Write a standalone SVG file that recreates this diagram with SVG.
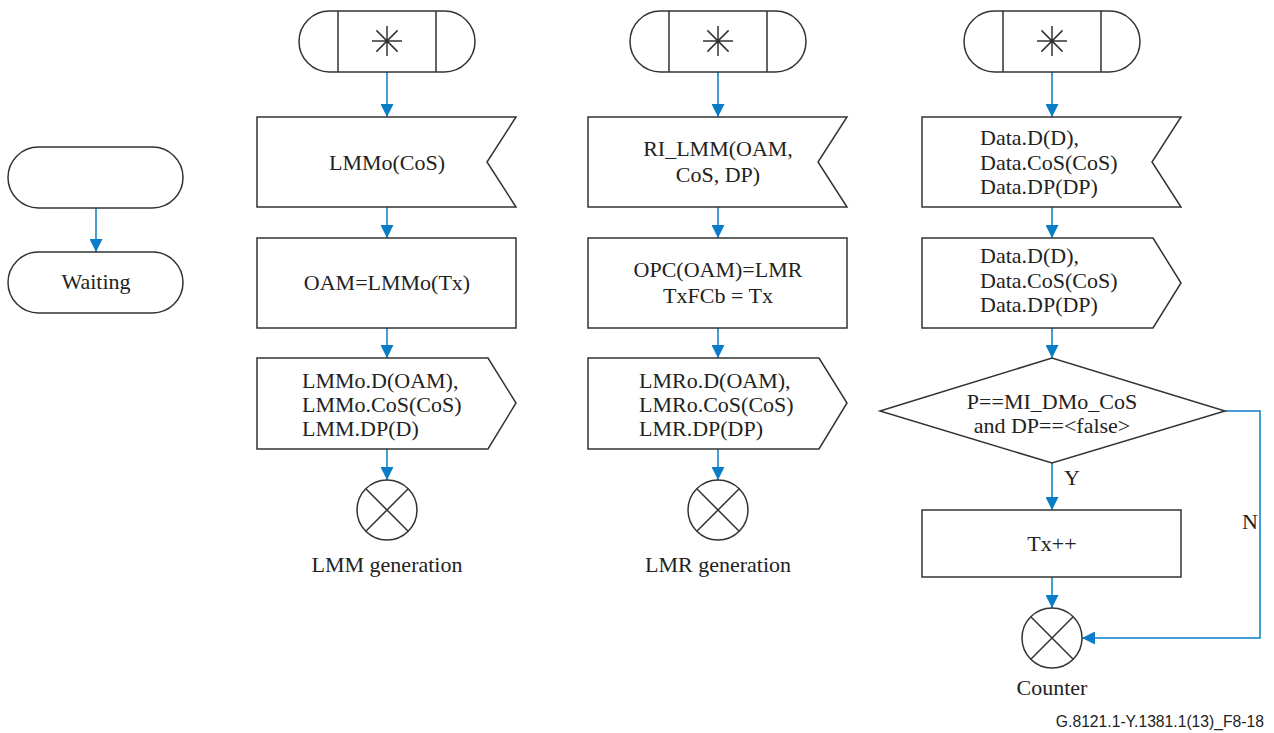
<svg xmlns="http://www.w3.org/2000/svg" width="1274" height="733" viewBox="0 0 1274 733">
<style>
.s{fill:#fff;stroke:#333;stroke-width:1.5}
.l{fill:none;stroke:#333;stroke-width:1.5}
.c{fill:none;stroke:#0a7cc8;stroke-width:1.5}
.t{font-family:"Liberation Serif",serif;font-size:22px;fill:#222}
.m{text-anchor:middle}
.f{font-family:"Liberation Sans",sans-serif;font-size:15.7px;fill:#222;text-anchor:end}
</style>
<defs>
<marker id="a" viewBox="0 0 12 12" refX="12" refY="6" markerWidth="13" markerHeight="13" markerUnits="userSpaceOnUse" orient="auto">
<path d="M0,0 L12,6 L0,12 Z" fill="#0a7cc8"/>
</marker>
<g id="star"><path class="l" d="M-15,0H15M0,-15V15M-10.6,-10.6L10.6,10.6M-10.6,10.6L10.6,-10.6"/></g>
<g id="x"><circle r="30" class="s"/><path class="l" d="M-21.2,-21.2L21.2,21.2M-21.2,21.2L21.2,-21.2"/></g>
</defs>

<g id="connectors">
<path class="c" marker-end="url(#a)" d="M96,208V252"/>
<path class="c" marker-end="url(#a)" d="M387,72V117"/>
<path class="c" marker-end="url(#a)" d="M387,207V238"/>
<path class="c" marker-end="url(#a)" d="M387,328V358"/>
<path class="c" marker-end="url(#a)" d="M387,449V480"/>
<path class="c" marker-end="url(#a)" d="M718,72V117"/>
<path class="c" marker-end="url(#a)" d="M718,207V238"/>
<path class="c" marker-end="url(#a)" d="M718,328V358"/>
<path class="c" marker-end="url(#a)" d="M718,449V480"/>
<path class="c" marker-end="url(#a)" d="M1052,72V117"/>
<path class="c" marker-end="url(#a)" d="M1052,207V238"/>
<path class="c" marker-end="url(#a)" d="M1052,328V358"/>
<path class="c" marker-end="url(#a)" d="M1052,463V510"/>
<path class="c" marker-end="url(#a)" d="M1052,577V608"/>
<path class="c" marker-end="url(#a)" d="M1225,411H1260V638H1082"/>
<text class="t" x="1064" y="485">Y</text>
<text class="t" x="1242" y="529">N</text>
</g>

<g id="left-start"><rect class="s" x="8" y="147" width="175" height="61" rx="30.5"/></g>
<g id="waiting"><rect class="s" x="8" y="252" width="175" height="61" rx="30.5"/><text class="t m" x="96" y="289">Waiting</text></g>

<g id="lmm-start"><rect class="s" x="299" y="11" width="176" height="61" rx="30.5"/><path class="l" d="M338,11V72M436,11V72"/><use href="#star" x="387" y="41"/></g>
<g id="lmm-in"><polygon class="s" points="257,117 516,117 487,162 516,207 257,207"/><text class="t m" x="387" y="170">LMMo(CoS)</text></g>
<g id="lmm-task"><rect class="s" x="257" y="238" width="259" height="90"/><text class="t m" x="387" y="290">OAM=LMMo(Tx)</text></g>
<g id="lmm-out"><polygon class="s" points="257,358 488,358 516,403 488,449 257,449"/>
<text class="t" x="302" y="388">LMMo.D(OAM),</text><text class="t" x="302" y="412">LMMo.CoS(CoS)</text><text class="t" x="302" y="436">LMM.DP(D)</text></g>
<g id="lmm-gen"><use href="#x" x="387" y="510"/><text class="t m" x="387" y="572">LMM generation</text></g>

<g id="lmr-start"><rect class="s" x="630" y="11" width="176" height="61" rx="30.5"/><path class="l" d="M669,11V72M767,11V72"/><use href="#star" x="718" y="41"/></g>
<g id="lmr-in"><polygon class="s" points="588,117 847,117 818,162 847,207 588,207"/><text class="t m" x="718" y="156">RI_LMM(OAM,</text><text class="t m" x="718" y="182">CoS, DP)</text></g>
<g id="lmr-task"><rect class="s" x="588" y="238" width="259" height="90"/><text class="t m" x="718" y="277">OPC(OAM)=LMR</text><text class="t m" x="718" y="303">TxFCb = Tx</text></g>
<g id="lmr-out"><polygon class="s" points="588,358 819,358 847,403 819,449 588,449"/>
<text class="t" x="639" y="388">LMRo.D(OAM),</text><text class="t" x="639" y="412">LMRo.CoS(CoS)</text><text class="t" x="639" y="436">LMR.DP(DP)</text></g>
<g id="lmr-gen"><use href="#x" x="718" y="510"/><text class="t m" x="718" y="572">LMR generation</text></g>

<g id="cnt-start"><rect class="s" x="964" y="11" width="176" height="61" rx="30.5"/><path class="l" d="M1003,11V72M1101,11V72"/><use href="#star" x="1052" y="41"/></g>
<g id="cnt-in"><polygon class="s" points="922,117 1181,117 1152,162 1181,207 922,207"/>
<text class="t" x="980" y="145">Data.D(D),</text><text class="t" x="980" y="170">Data.CoS(CoS)</text><text class="t" x="980" y="194">Data.DP(DP)</text></g>
<g id="cnt-out"><polygon class="s" points="922,238 1153,238 1181,283 1153,328 922,328"/>
<text class="t" x="980" y="263">Data.D(D),</text><text class="t" x="980" y="288">Data.CoS(CoS)</text><text class="t" x="980" y="312">Data.DP(DP)</text></g>
<g id="cnt-dec"><polygon class="s" points="880,411 1052,358 1225,411 1052,463"/>
<text class="t m" x="1052" y="409">P==MI_DMo_CoS</text><text class="t m" x="1052" y="433">and DP==&lt;false&gt;</text></g>
<g id="cnt-task"><rect class="s" x="922" y="510" width="259" height="67"/><text class="t m" x="1052" y="551">Tx++</text></g>
<g id="counter"><use href="#x" x="1052" y="638"/><text class="t m" x="1052" y="695">Counter</text></g>

<text class="f" x="1264" y="727">G.8121.1-Y.1381.1(13)_F8-18</text>
</svg>
